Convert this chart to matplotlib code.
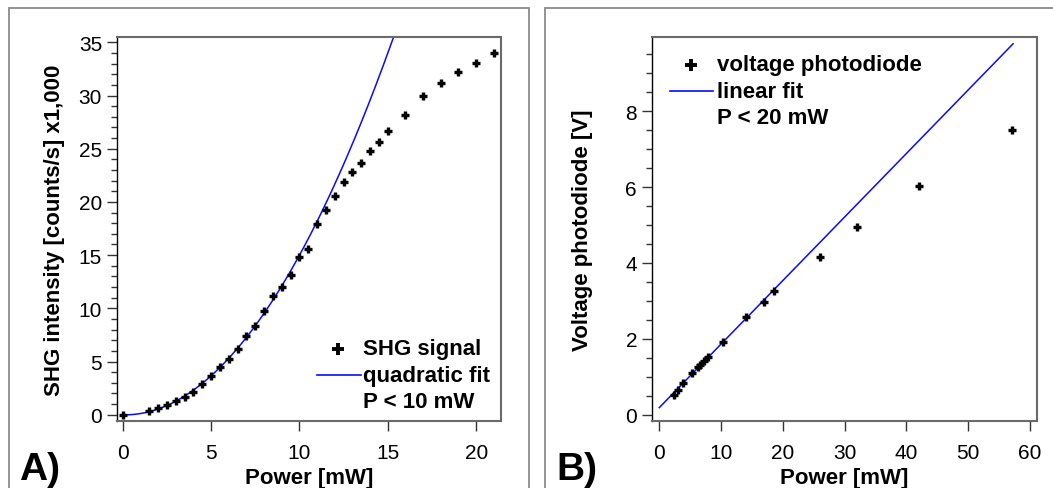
import numpy as np
import matplotlib
matplotlib.use("Agg")
import matplotlib.pyplot as plt
from matplotlib.patches import Rectangle
from matplotlib.lines import Line2D
from matplotlib.ticker import MultipleLocator

plt.rcParams['font.family'] = ['Liberation Sans', 'DejaVu Sans']

# ---------------- data: panel A ----------------
power_a = [0, 1.5, 2, 2.5, 3, 3.5, 4, 4.5, 5, 5.5, 6, 6.5, 7, 7.5, 8, 8.5, 9, 9.5,
           10, 10.5, 11, 11.5, 12, 12.5, 13, 13.5, 14, 14.5, 15, 16, 17, 18, 19, 20, 21]
shg_a = [0, 0.38, 0.6, 0.91, 1.25, 1.63, 2.1, 2.88, 3.64, 4.51, 5.27, 6.21, 7.43, 8.34,
         9.72, 11.16, 12.04, 13.17, 14.86, 15.61, 17.96, 19.25, 20.56, 21.88, 22.82,
         23.64, 24.80, 25.67, 26.65, 28.21, 29.97, 31.16, 32.19, 33.04, 33.95]
fit_a_limit = 10        # P < 10 mW
fit_a_xmax = 15.38      # end of drawn fit curve

# ---------------- data: panel B ----------------
power_b = [2.4, 3.0, 3.8, 5.3, 6.3, 6.6, 7.2, 7.9, 10.3, 14.1, 16.9, 18.5, 26.1, 32.0, 42.1, 57.1]
volt_b = [0.52, 0.65, 0.83, 1.09, 1.27, 1.32, 1.42, 1.53, 1.93, 2.57, 2.98, 3.26,
          4.17, 4.96, 6.02, 7.50]
fit_b_limit = 20        # P < 20 mW
fit_b_xmax = 57.3

W, H = 1053, 489
fig = plt.figure(figsize=(W / 100, H / 100), dpi=100)

def fx(px):
    return px / W

def fy(py):
    return 1 - py / H

frame_col = '#8a8a8a'
# panel frames
fig.patches.append(Rectangle((fx(9), fy(520)), fx(529) - fx(9), fy(9.3) - fy(520),
                             transform=fig.transFigure, fill=False, ec=frame_col, lw=1.3))
fig.patches.append(Rectangle((fx(545), fy(520)), fx(1060) - fx(545), fy(9.3) - fy(520),
                             transform=fig.transFigure, fill=False, ec=frame_col, lw=1.3))

bottom = fy(421.7)
top = fy(38.3)
axA = fig.add_axes([fx(117.3), bottom, fx(501.4) - fx(117.3), top - bottom])
axB = fig.add_axes([fx(652.3), bottom, fx(1036.7) - fx(652.3), top - bottom])

tick_fs = 15
lab_fs = 16
leg_fs = 16

for ax in (axA, axB):
    for s in ('top', 'right', 'bottom'):
        ax.spines[s].set_color('#6a6a6a')
        ax.spines[s].set_linewidth(1.5)
    ax.spines['left'].set_color('black')
    ax.spines['left'].set_linewidth(1.0)
    ax.tick_params(axis='both', which='major', direction='out', length=7, width=1.0,
                   color='#333333', labelsize=tick_fs, pad=4)
    ax.tick_params(axis='x', which='major', pad=9)
    ax.tick_params(axis='y', which='minor', direction='out', length=4, width=1.0, color='#333333')
    ax.tick_params(axis='x', which='minor', length=0)

# ---------- panel A ----------
pa = np.array(power_a)
sa = np.array(shg_a)
mask = pa < fit_a_limit
coef_a = np.polyfit(pa[mask], sa[mask], 2)
xa = np.linspace(0, fit_a_xmax, 300)
axA.plot(xa, np.polyval(coef_a, xa), color='#0a0aff', lw=1.1, zorder=2)
axA.plot(pa, sa, ls='none', marker='+', ms=5.5, mew=2.4, color='black', zorder=3)
axA.set_xlim(-0.31, 21.43)
axA.set_ylim(-0.56, 35.47)
axA.xaxis.set_major_locator(MultipleLocator(5))
axA.yaxis.set_major_locator(MultipleLocator(5))
axA.yaxis.set_minor_locator(MultipleLocator(1))
axA.set_xlabel('Power [mW]', fontsize=lab_fs, fontweight='bold', labelpad=4)
axA.set_ylabel('SHG intensity [counts/s] x1,000', fontsize=lab_fs, fontweight='bold', labelpad=10)

# ---------- panel B ----------
pb = np.array(power_b)
vb = np.array(volt_b)
maskb = pb < fit_b_limit
coef_b = np.polyfit(pb[maskb], vb[maskb], 1)
xb = np.linspace(0, fit_b_xmax, 100)
axB.plot(xb, np.polyval(coef_b, xb), color='#0a0aff', lw=1.1, zorder=2)
axB.plot(pb, vb, ls='none', marker='+', ms=5.5, mew=2.4, color='black', zorder=3)
axB.set_xlim(-1.13, 61.12)
axB.set_ylim(-0.158, 9.95)
axB.xaxis.set_major_locator(MultipleLocator(10))
axB.yaxis.set_major_locator(MultipleLocator(2))
axB.yaxis.set_minor_locator(MultipleLocator(0.5))
axB.set_xlabel('Power [mW]', fontsize=lab_fs, fontweight='bold', labelpad=4)
axB.set_ylabel('Voltage photodiode [V]', fontsize=lab_fs, fontweight='bold', labelpad=23)

# ---------- legends (manual) ----------
def legend(xm, xl0, xl1, xt, y0, dy, lines):
    fig.add_artist(Line2D([fx(xm)], [fy(y0)], marker='+', ms=9, mew=2.8, color='black',
                          ls='none', transform=fig.transFigure))
    fig.add_artist(Line2D([fx(xl0), fx(xl1)], [fy(y0 + dy)] * 2, color='#0a0aff', lw=1.2,
                          transform=fig.transFigure))
    for i, t in enumerate(lines):
        fig.text(fx(xt), fy(y0 + i * dy), t, fontsize=leg_fs, fontweight='bold',
                 ha='left', va='center')

legend(338, 316.8, 361, 363, 350, 26.3, ['SHG signal', 'quadratic fit', 'P < 10 mW'])
legend(691, 670, 713, 717, 65.7, 26.6, ['voltage photodiode', 'linear fit', 'P < 20 mW'])

fig.text(fx(19), fy(480), 'A)', fontsize=28, fontweight='bold', ha='left', va='baseline')
fig.text(fx(556), fy(480), 'B)', fontsize=28, fontweight='bold', ha='left', va='baseline')

fig.savefig('out.png', dpi=100)
